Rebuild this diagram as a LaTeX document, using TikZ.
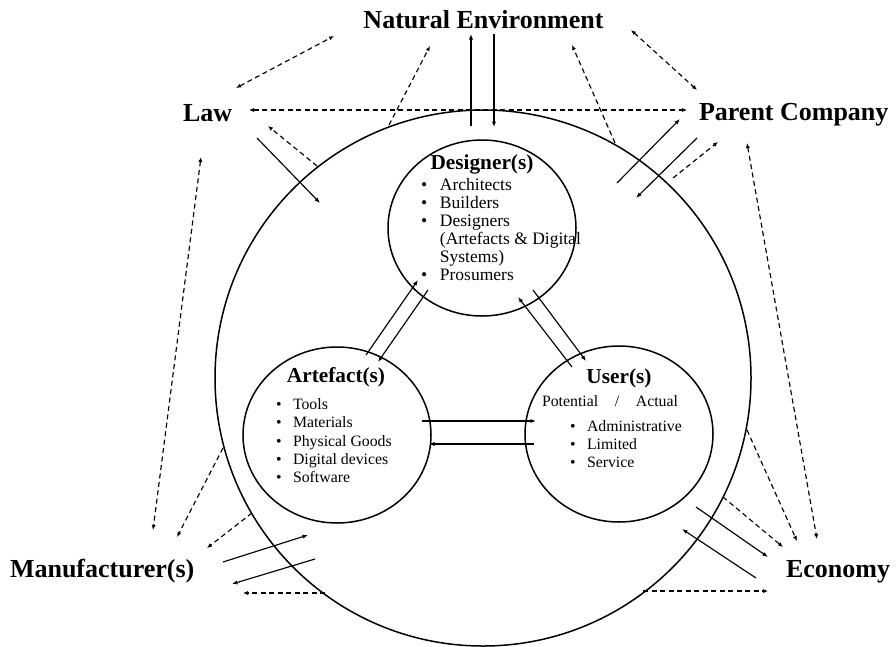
\documentclass[tikz,border=0pt]{standalone}
\usepackage{fontspec}
\setmainfont{Liberation Serif}
\usetikzlibrary{arrows.meta,shapes.geometric}

\begin{document}
\begin{tikzpicture}[x=1pt,y=-1pt,
  every node/.style={inner sep=0pt, outer sep=0pt},
  ring/.style={draw, line width=1.5pt, ellipse, minimum width=188pt, minimum height=176pt},
  title/.style={font=\fontsize{26}{30}\selectfont\bfseries},
  head/.style={font=\fontsize{21.3}{24}\selectfont\bfseries, anchor=base},
  biglist/.style={font=\fontsize{17.5}{18}\selectfont, anchor=base west},
  smalllist/.style={font=\fontsize{15.8}{18.3}\selectfont, anchor=base west},
  flow/.style={line width=1.15pt, -{Latex[length=5.5pt,width=4.2pt]}},
  link/.style={line width=1.15pt, dash pattern=on 5pt off 3.5pt, -{Latex[length=5pt,width=4.2pt]}},
  twoway/.style={link, {Latex[length=5pt,width=4.2pt]}-{Latex[length=5pt,width=4.2pt]}},
]
\useasboundingbox (0,0) rectangle (896,646);

% outer system boundary and the three actors
\node[draw, circle, line width=1.5pt, minimum size=536pt] (world) at (483,378) {};
\node[ring] (designer) at (482,228) {};
\node[ring] (artefact) at (337,435) {};
\node[ring] (user) at (619,434) {};

% surrounding factors
\node[title, anchor=base] (nature) at (483.5,28) {Natural Environment};
\node[title, anchor=base west] (law) at (183,121) {Law};
\node[title, anchor=base west] (parent) at (699,120) {Parent Company};
\node[title, anchor=base west] (maker) at (10,577) {Manufacturer(s)};
\node[title, anchor=base west] (economy) at (786,577) {Economy};

% designer content
\node[head] (designerhead) at (482,169) {Designer(s)};
\node[biglist] (designerlist) at (421,190) {\begin{tabular}[t]{@{}l@{\hspace{12.8pt}}l@{}}
• & Architects\\
• & Builders\\
• & Designers\\
  & (Artefacts \& Digital\\
  & Systems)\\
• & Prosumers
\end{tabular}};

% artefact content
\node[head] (artefacthead) at (336,382) {Artefact(s)};
\node[smalllist] (artefactlist) at (276.2,409.5) {\begin{tabular}[t]{@{}l@{\hspace{11.3pt}}l@{}}
• & Tools\\
• & Materials\\
• & Physical Goods\\
• & Digital devices\\
• & Software
\end{tabular}};

% user content
\node[head] (userhead) at (619,383) {User(s)};
\node[smalllist] (usertype) at (542,406) {\makebox[136pt][s]{Potential\hfill/\hfill Actual}};
\node[smalllist] (userlist) at (570.2,431) {\begin{tabular}[t]{@{}l@{\hspace{11.3pt}}l@{}}
• & Administrative\\
• & Limited\\
• & Service
\end{tabular}};

% end points of the exchanges
\coordinate (natUpA) at (471,126);  \coordinate (natUpB) at (471,34);
\coordinate (natDnA) at (494,34);   \coordinate (natDnB) at (494,127);
\coordinate (lawInA) at (257,138);  \coordinate (lawInB) at (320,203);
\coordinate (parOutA) at (617,183); \coordinate (parOutB) at (680,119);
\coordinate (parInA) at (697,138);  \coordinate (parInB) at (636,198);
\coordinate (mfInA) at (223,562);   \coordinate (mfInB) at (308,535);
\coordinate (mfOutA) at (315,559);  \coordinate (mfOutB) at (232,584);
\coordinate (ecOutA) at (696,507);  \coordinate (ecOutB) at (768,557);
\coordinate (ecInA) at (756,578);   \coordinate (ecInB) at (682,529);
\coordinate (adUpA) at (366,355);   \coordinate (adUpB) at (418,280);
\coordinate (adDnA) at (428,290);   \coordinate (adDnB) at (378,362);
\coordinate (udUpA) at (572,367);   \coordinate (udUpB) at (518,297);
\coordinate (udDnA) at (533,290);   \coordinate (udDnB) at (586,361);
\coordinate (auRA) at (422,421);    \coordinate (auRB) at (536,421);
\coordinate (auLA) at (534,444);    \coordinate (auLB) at (429,444);

\coordinate (lawNatA) at (236,88);  \coordinate (lawNatB) at (334,36);
\coordinate (rimNatA) at (389,125); \coordinate (rimNatB) at (430,46);
\coordinate (lawParA) at (249,110); \coordinate (lawParB) at (687,110);
\coordinate (rimLawA) at (317,166); \coordinate (rimLawB) at (268,126);
\coordinate (rimNat2A) at (615,143);\coordinate (rimNat2B) at (572,45);
\coordinate (natParA) at (631,30);  \coordinate (natParB) at (697,90);
\coordinate (lawMfA) at (201,157);  \coordinate (lawMfB) at (153,530);
\coordinate (rimParA) at (673,178); \coordinate (rimParB) at (718,142);
\coordinate (parEcA) at (747,143);  \coordinate (parEcB) at (817,539);
\coordinate (rimEc1A) at (747,430); \coordinate (rimEc1B) at (797,541);
\coordinate (rimEc2A) at (723,497); \coordinate (rimEc2B) at (783,547);
\coordinate (rimEc3A) at (643,591); \coordinate (rimEc3B) at (768,591);
\coordinate (rimMf1A) at (223,448); \coordinate (rimMf1B) at (177,537);
\coordinate (rimMf2A) at (252,513); \coordinate (rimMf2B) at (207,548);
\coordinate (rimMf3A) at (325,593); \coordinate (rimMf3B) at (243,593);

% solid exchanges
\foreach \p in {natUp,natDn,lawIn,parOut,parIn,mfIn,mfOut,ecOut,ecIn,adUp,adDn,udUp,udDn,auR,auL}
  \draw[flow] (\p A) -- (\p B);

% dashed influences
\foreach \p in {rimNat,rimLaw,rimNat2,rimPar,rimEc1,rimEc2,rimEc3,rimMf1,rimMf2,rimMf3}
  \draw[link] (\p A) -- (\p B);
\foreach \p in {lawNat,lawPar,natPar,lawMf,parEc}
  \draw[twoway] (\p A) -- (\p B);

\end{tikzpicture}
\end{document}
